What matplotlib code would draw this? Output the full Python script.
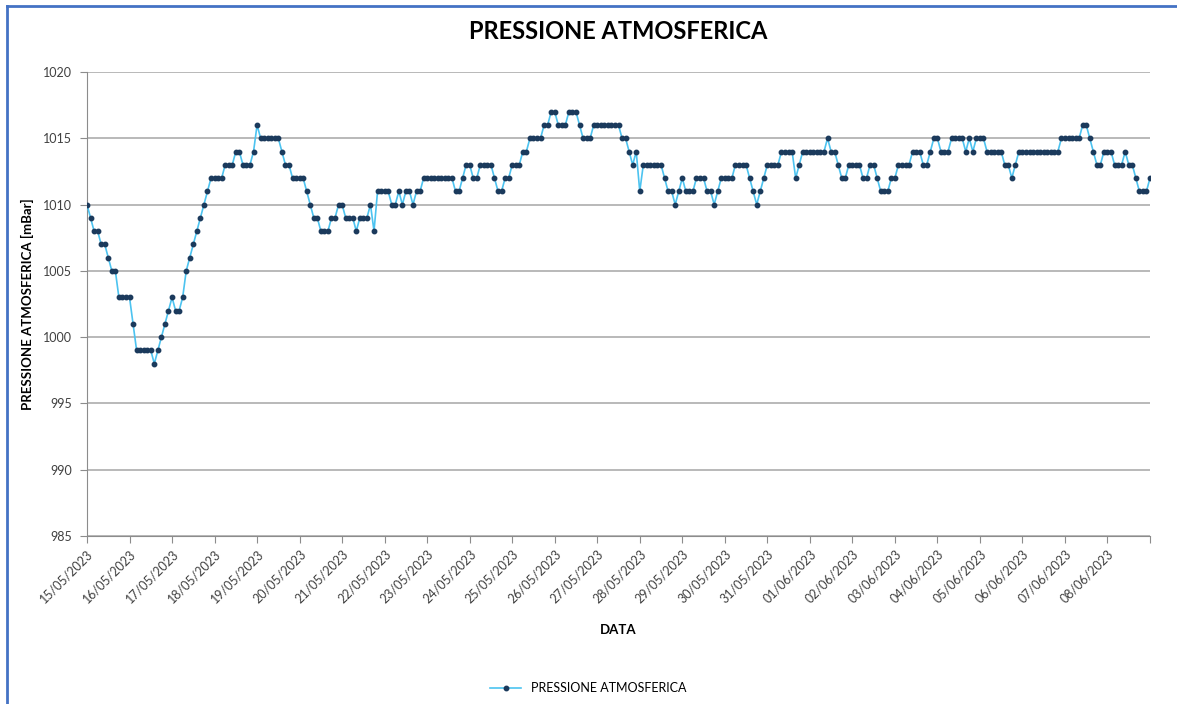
import numpy as np
import matplotlib
matplotlib.use("Agg")
import matplotlib.pyplot as plt
from matplotlib.lines import Line2D

plt.rcParams["font.family"] = ["Lato", "DejaVu Sans"]

# one reading every 2 hours, 12 per day, from 15/05 to 09/06
pressure = [
    1010, 1009, 1008, 1008, 1007, 1007, 1006, 1005, 1005, 1003, 1003, 1003,
    1003, 1001, 999, 999, 999, 999, 999, 998, 999, 1000, 1001, 1002,
    1003, 1002, 1002, 1003, 1005, 1006, 1007, 1008, 1009, 1010, 1011, 1012,
    1012, 1012, 1012, 1013, 1013, 1013, 1014, 1014, 1013, 1013, 1013, 1014,
    1016, 1015, 1015, 1015, 1015, 1015, 1015, 1014, 1013, 1013, 1012, 1012,
    1012, 1012, 1011, 1010, 1009, 1009, 1008, 1008, 1008, 1009, 1009, 1010,
    1010, 1009, 1009, 1009, 1008, 1009, 1009, 1009, 1010, 1008, 1011, 1011,
    1011, 1011, 1010, 1010, 1011, 1010, 1011, 1011, 1010, 1011, 1011, 1012,
    1012, 1012, 1012, 1012, 1012, 1012, 1012, 1012, 1011, 1011, 1012, 1013,
    1013, 1012, 1012, 1013, 1013, 1013, 1013, 1012, 1011, 1011, 1012, 1012,
    1013, 1013, 1013, 1014, 1014, 1015, 1015, 1015, 1015, 1016, 1016, 1017,
    1017, 1016, 1016, 1016, 1017, 1017, 1017, 1016, 1015, 1015, 1015, 1016,
    1016, 1016, 1016, 1016, 1016, 1016, 1016, 1015, 1015, 1014, 1013, 1014,
    1011, 1013, 1013, 1013, 1013, 1013, 1013, 1012, 1011, 1011, 1010, 1011,
    1012, 1011, 1011, 1011, 1012, 1012, 1012, 1011, 1011, 1010, 1011, 1012,
    1012, 1012, 1012, 1013, 1013, 1013, 1013, 1012, 1011, 1010, 1011, 1012,
    1013, 1013, 1013, 1013, 1014, 1014, 1014, 1014, 1012, 1013, 1014, 1014,
    1014, 1014, 1014, 1014, 1014, 1015, 1014, 1014, 1013, 1012, 1012, 1013,
    1013, 1013, 1013, 1012, 1012, 1013, 1013, 1012, 1011, 1011, 1011, 1012,
    1012, 1013, 1013, 1013, 1013, 1014, 1014, 1014, 1013, 1013, 1014, 1015,
    1015, 1014, 1014, 1014, 1015, 1015, 1015, 1015, 1014, 1015, 1014, 1015,
    1015, 1015, 1014, 1014, 1014, 1014, 1014, 1013, 1013, 1012, 1013, 1014,
    1014, 1014, 1014, 1014, 1014, 1014, 1014, 1014, 1014, 1014, 1014, 1015,
    1015, 1015, 1015, 1015, 1015, 1016, 1016, 1015, 1014, 1013, 1013, 1014,
    1014, 1014, 1013, 1013, 1013, 1014, 1013, 1013, 1012, 1011, 1011, 1011,
    1012,
]
days = [
    "15/05/2023", "16/05/2023", "17/05/2023", "18/05/2023", "19/05/2023",
    "20/05/2023", "21/05/2023", "22/05/2023", "23/05/2023", "24/05/2023",
    "25/05/2023", "26/05/2023", "27/05/2023", "28/05/2023", "29/05/2023",
    "30/05/2023", "31/05/2023", "01/06/2023", "02/06/2023", "03/06/2023",
    "04/06/2023", "05/06/2023", "06/06/2023", "07/06/2023", "08/06/2023",
]
per_day = 12

x = np.arange(len(pressure))

fig = plt.figure(figsize=(11.77, 7.04), dpi=100)
ax = fig.add_axes([87 / 1177, 1 - 536 / 704, 1063 / 1177, 464 / 704])

ax.plot(x, pressure, color="#4cc3f0", lw=1.2, marker="o", ms=3.2,
        mfc="#1b3a5c", mec="#1b3a5c", label="PRESSIONE ATMOSFERICA", zorder=3)

ax.set_xlim(0, len(pressure) - 1)
ax.set_ylim(985, 1020)
ax.set_yticks(np.arange(985, 1021, 5))
ax.yaxis.grid(True, color="#a6a6a6", lw=1.1)
ax.set_axisbelow(True)

ticks = np.arange(0, len(pressure), per_day)
ax.set_xticks(ticks)
ax.set_xticklabels(days + [""] * (len(ticks) - len(days)), rotation=45,
                   ha="right", rotation_mode="anchor", fontsize=9, color="#404040")
ax.tick_params(axis="x", length=5, color="#8c8c8c", pad=3)
ax.tick_params(axis="y", length=5, color="#8c8c8c", labelsize=9, labelcolor="#404040", pad=6)

for s in ["top", "right"]:
    ax.spines[s].set_visible(False)
for s in ["left", "bottom"]:
    ax.spines[s].set_color("#8c8c8c")

ax.set_title("PRESSIONE ATMOSFERICA", fontsize=17, fontweight="bold", pad=24)
ax.set_ylabel("PRESSIONE ATMOSFERICA [mBar]", fontsize=9.5, fontweight="bold", labelpad=6)
ax.set_xlabel("DATA", fontsize=9.5, fontweight="bold", labelpad=14)

fig.legend(handles=[Line2D([], [], color="#4cc3f0", lw=1.2, marker="o", ms=3.2,
                           mfc="#1b3a5c", mec="#1b3a5c")],
           labels=["PRESSIONE ATMOSFERICA"], loc="center", bbox_to_anchor=(0.5, 1 - 688 / 704),
           frameon=False, fontsize=9, handlelength=2.5)

# blue frame of the screenshot
fig.add_artist(Line2D([7 / 1177, 1], [1 - 6 / 704] * 2, color="#4472c4", lw=2))
fig.add_artist(Line2D([7 / 1177] * 2, [0, 1 - 6 / 704], color="#4472c4", lw=2))

fig.savefig("out.png", dpi=100)
